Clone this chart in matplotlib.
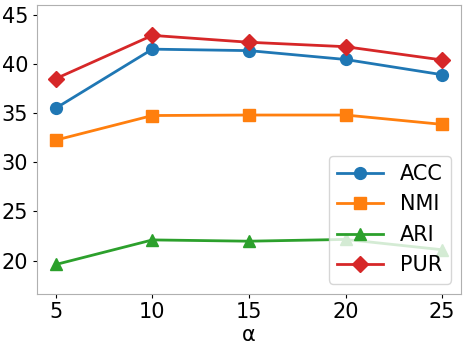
import matplotlib as mpl
import matplotlib.pyplot as plt

mpl.use('Agg')

alpha = [5, 10, 15, 20, 25]
acc = [35.5, 41.5, 41.35, 40.45, 38.9]
nmi = [32.25, 34.75, 34.8, 34.8, 33.85]
ari = [19.6, 22.1, 21.97, 22.15, 21.1]
pur = [38.5, 42.9, 42.2, 41.75, 40.4]


def plot_alpha(plt_file):
    """Plot metrics vs alpha."""
    fig, axis = plt.subplots(figsize=(4.68, 3.5), dpi=100)
    fig.subplots_adjust(left=0.078, right=0.986, bottom=0.16, top=0.986)
    axis.plot(alpha, acc, marker='o', markersize=8.5, linewidth=2, color='#1f77b4', label='ACC')
    axis.plot(alpha, nmi, marker='s', markersize=8, linewidth=2, color='#ff7f0e', label='NMI')
    axis.plot(alpha, ari, marker='^', markersize=8.5, linewidth=2, color='#2ca02c', label='ARI')
    axis.plot(alpha, pur, marker='D', markersize=8, linewidth=2, color='#d62728', label='PUR')
    axis.set_xlim(4, 26)
    axis.set_ylim(16.6, 46)
    axis.set_xticks(alpha)
    axis.set_yticks([20, 25, 30, 35, 40, 45])
    axis.tick_params(labelsize=15, length=3, pad=3)
    for spine in axis.spines.values():
        spine.set_color('#b0b0b0')
    axis.set_xlabel('α', fontsize=15, labelpad=2)
    axis.legend(loc='lower right', fontsize=15, handlelength=2.2)
    fig.savefig(plt_file)


plot_alpha('out.png')
